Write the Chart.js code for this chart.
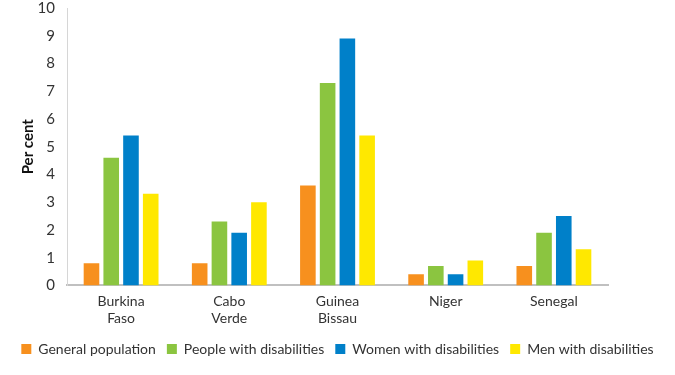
<!DOCTYPE html>
<html>
<head>
<meta charset="utf-8">
<script src="https://cdn.jsdelivr.net/npm/chart.js@4"></script>
<style>
  html, body { margin: 0; padding: 0; background: #fff; }
  #wrap { width: 675px; height: 375px; }
</style>
</head>
<body>
<div id="wrap"><canvas id="chart"></canvas></div>
<script>
const countries = [['Burkina', 'Faso'], ['Cabo', 'Verde'], ['Guinea', 'Bissau'], 'Niger', 'Senegal'];
const generalPopulation = [0.8, 0.8, 3.6, 0.4, 0.7];
const peopleWithDisabilities = [4.6, 2.3, 7.3, 0.7, 1.9];
const womenWithDisabilities = [5.4, 1.9, 8.9, 0.4, 2.5];
const menWithDisabilities = [3.3, 3.0, 5.4, 0.9, 1.3];

const font = 'Lato, "Open Sans", sans-serif';

const series = [
  { label: 'General population', data: generalPopulation, color: '#F7901E' },
  { label: 'People with disabilities', data: peopleWithDisabilities, color: '#8BC540' },
  { label: 'Women with disabilities', data: womenWithDisabilities, color: '#0080C9' },
  { label: 'Men with disabilities', data: menWithDisabilities, color: '#FFE800' }
];

new Chart(document.getElementById('chart').getContext('2d'), {
  type: 'bar',
  data: {
    labels: countries,
    datasets: series.map(s => ({
      label: s.label,
      data: s.data,
      backgroundColor: s.color,
      borderWidth: 0,
      categoryPercentage: 0.73,
      barPercentage: 0.79
    }))
  },
  options: {
    responsive: true,
    maintainAspectRatio: false,
    animation: false,
    layout: { padding: { left: 0, right: 0, top: 8, bottom: 9 } },
    plugins: {
      tooltip: { enabled: false },
      legend: {
        position: 'bottom',
        labels: {
          boxWidth: 10,
          boxHeight: 10,
          padding: 11,
          color: '#333',
          font: { family: font, size: 14 }
        }
      }
    },
    scales: {
      x: {
        grid: { display: false },
        border: { color: '#c0c0c0', width: 2 },
        ticks: { color: '#333', padding: 0, font: { family: font, size: 14 } },
        afterFit: s => { s.height += 4; }
      },
      y: {
        min: 0,
        max: 10,
        grid: { display: false },
        border: { color: '#d6d6d6', width: 1 },
        ticks: { stepSize: 1, color: '#333', padding: 4, font: { family: font, size: 15 } },
        title: { display: true, text: 'Per cent', color: '#111', font: { family: font, size: 15, weight: 'bold' }, padding: { top: 19, bottom: 2 } },
        afterFit: s => { s.width = 67; s.paddingTop = 0; s.paddingBottom = 0; }
      },
      spacer: {
        position: 'right',
        display: true,
        grid: { display: false },
        border: { display: false },
        ticks: { display: false },
        afterFit: s => { s.width = 67; }
      }
    }
  }
});
</script>
</body>
</html>
